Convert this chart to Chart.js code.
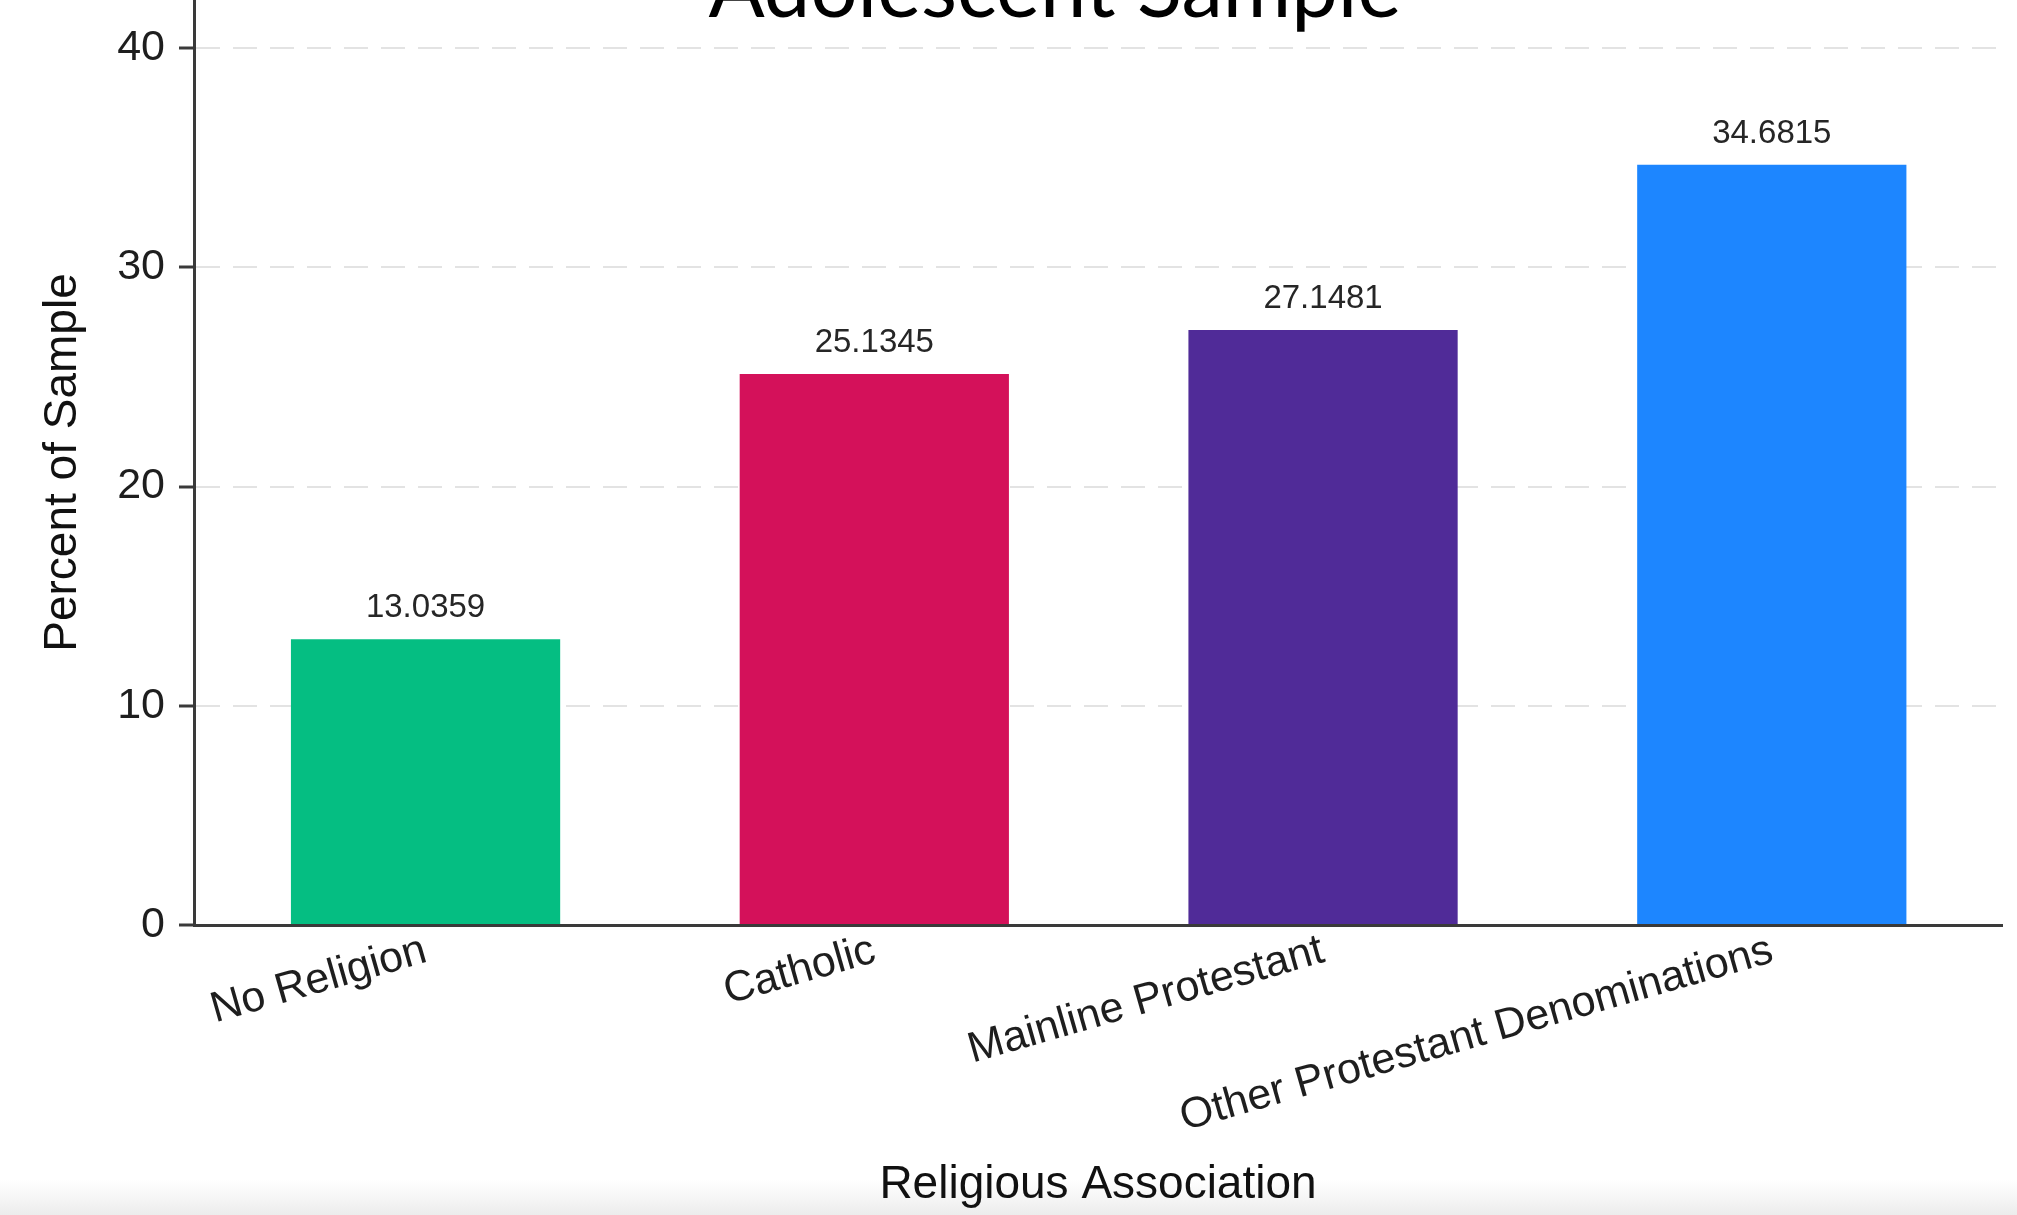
<!DOCTYPE html>
<html>
<head>
<meta charset="utf-8">
<title>Religious Association</title>
<script src="https://cdn.jsdelivr.net/npm/chart.js@4"></script>
<style>
  html, body { margin: 0; padding: 0; background: #ffffff; overflow: hidden; }
  #wrap { position: relative; width: 2017px; height: 1215px; }
</style>
</head>
<body>
<div id="wrap"><canvas id="chart"></canvas></div>
<script>
// Chart content
const chartTitle = 'Adolescent Sample';
const categories = ['No Religion', 'Catholic', 'Mainline Protestant', 'Other Protestant Denominations'];
const percentValues = [13.0359, 25.1345, 27.1481, 34.6815];
const barColors = ['#05BE82', '#D4115A', '#502B98', '#1D86FF'];
const yTickValues = [0, 10, 20, 30, 40];
const xAxisTitle = 'Religious Association';
const yAxisTitle = 'Percent of Sample';

const SANS = "'Liberation Sans', Arial, Helvetica, sans-serif";
const AXIS_COLOR = '#3a3a3a';

// Bars sit on a numeric x axis (one unit per category) so the padding
// either side of the outer bars can be set exactly.
const barPoints = categories.map((_, i) => ({ x: i, y: percentValues[i] }));

// White page with a faint grey fade along the bottom edge
const backdrop = {
  id: 'backdrop',
  beforeDraw(chart) {
    const { ctx, width, height } = chart;
    ctx.save();
    ctx.fillStyle = '#ffffff';
    ctx.fillRect(0, 0, width, height);
    const band = 36;
    const g = ctx.createLinearGradient(0, height - band, 0, height);
    g.addColorStop(0, 'rgba(238,238,238,0)');
    g.addColorStop(1, 'rgba(236,236,236,1)');
    ctx.fillStyle = g;
    ctx.fillRect(0, height - band, width, band);
    ctx.restore();
  }
};

// Value printed above each bar
const valueLabels = {
  id: 'valueLabels',
  afterDatasetsDraw(chart) {
    const { ctx } = chart;
    const meta = chart.getDatasetMeta(0);
    ctx.save();
    ctx.font = `33px ${SANS}`;
    ctx.fillStyle = '#262626';
    ctx.textAlign = 'center';
    ctx.textBaseline = 'alphabetic';
    meta.data.forEach((bar, i) => {
      ctx.fillText(String(percentValues[i]), bar.x, bar.y - 22);
    });
    ctx.restore();
  }
};

// Large heading that runs off the top edge of the page
const topHeading = {
  id: 'topHeading',
  afterDraw(chart) {
    const { ctx, width } = chart;
    const family = "Lato, 'Open Sans', sans-serif";
    ctx.save();
    ctx.font = `100px ${family}`;
    const w100 = ctx.measureText(chartTitle).width;
    const size = 100 * 693 / w100;
    ctx.font = `${size}px ${family}`;
    ctx.fillStyle = '#000000';
    ctx.textAlign = 'center';
    ctx.textBaseline = 'alphabetic';
    ctx.fillText(chartTitle, width * 0.523, 17);
    ctx.restore();
  }
};

new Chart(document.getElementById('chart'), {
  type: 'bar',
  data: {
    datasets: [{
      data: barPoints,
      backgroundColor: barColors,
      borderWidth: 0,
      categoryPercentage: 1,
      barPercentage: 0.6
    }]
  },
  options: {
    responsive: true,
    maintainAspectRatio: false,
    animation: false,
    devicePixelRatio: 1,
    layout: { padding: { left: 0, top: 0, right: 15, bottom: 0 } },
    plugins: {
      legend: { display: false },
      tooltip: { enabled: false },
      title: { display: false }
    },
    scales: {
      x: {
        type: 'linear',
        min: -0.516,
        max: 3.513,
        offset: false,
        afterBuildTicks(scale) {
          scale.ticks = categories.map((_, i) => ({ value: i }));
        },
        grid: { display: false, drawTicks: false, tickLength: 0 },
        border: { display: true, color: AXIS_COLOR, width: 3, z: 1 },
        ticks: {
          autoSkip: false,
          minRotation: 16,
          maxRotation: 16,
          padding: 0,
          color: '#1e1e1e',
          font: { family: SANS, size: 43 },
          callback: (value) => categories[value]
        },
        title: {
          display: true,
          text: xAxisTitle,
          color: '#111111',
          font: { family: SANS, size: 46 },
          padding: { top: 0, bottom: 2 }
        },
        afterFit(scale) {
          scale.height = 290;
          scale.paddingLeft = 0;
          scale.paddingRight = 0;
        }
      },
      y: {
        min: 0,
        max: 42.2,
        afterBuildTicks(scale) {
          scale.ticks = yTickValues.map(v => ({ value: v }));
        },
        grid: {
          color: (c) => (c.tick && c.tick.value === 0) ? 'rgba(0,0,0,0)' : '#e3e3e3',
          lineWidth: 2,
          tickLength: 15,
          tickColor: AXIS_COLOR,
          tickWidth: 3,
          tickBorderDash: []
        },
        border: { display: true, color: AXIS_COLOR, width: 3, dash: [24, 13], z: 1 },
        ticks: {
          padding: 14,
          color: '#1e1e1e',
          font: { family: SANS, size: 43 }
        },
        title: {
          display: true,
          text: yAxisTitle,
          color: '#111111',
          font: { family: SANS, size: 46 },
          padding: { top: 36, bottom: 0 }
        },
        afterFit(scale) {
          scale.width = 194;
          scale.paddingTop = 0;
          scale.paddingBottom = 0;
        }
      }
    }
  },
  plugins: [backdrop, valueLabels, topHeading]
});
</script>
</body>
</html>
